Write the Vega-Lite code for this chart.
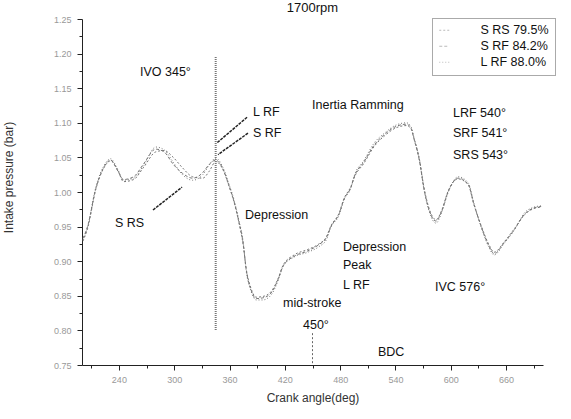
{
  "$schema": "https://vega.github.io/schema/vega-lite/v6.json",
  "autosize": "none",
  "width": 461,
  "height": 346,
  "padding": {"left": 82, "top": 19, "right": 28, "bottom": 54},
  "background": "white",
  "title": {"text": "1700rpm", "font": "Liberation Sans", "fontSize": 13, "fontWeight": "normal", "color": "#111", "anchor": "middle", "offset": 0},
  "config": {
    "view": {"stroke": null},
    "font": "Liberation Sans",
    "legend": {
      "orient": "none", "legendX": 350, "legendY": -1,
      "strokeColor": "#555", "strokeDash": [1, 1], "padding": 6,
      "labelFont": "Liberation Sans", "labelFontSize": 12.5, "labelColor": "#111",
      "symbolType": "stroke", "symbolSize": 100, "symbolStrokeColor": "#bbb", "symbolStrokeWidth": 1,
      "labelOffset": 30, "rowPadding": 3
    }
  },
  "resolve": {"axis": {"x": "independent", "y": "independent"}},
  "datasets": {
    "curves": [
      {"series": "L RF 88.0%", "angle": 201, "p": 0.931}, {"series": "L RF 88.0%", "angle": 206, "p": 0.949}, {"series": "L RF 88.0%", "angle": 215, "p": 1.007}, {"series": "L RF 88.0%", "angle": 223, "p": 1.036}, {"series": "L RF 88.0%", "angle": 231, "p": 1.048}, {"series": "L RF 88.0%", "angle": 239, "p": 1.032}, {"series": "L RF 88.0%", "angle": 245, "p": 1.017}, {"series": "L RF 88.0%", "angle": 256, "p": 1.020}, {"series": "L RF 88.0%", "angle": 267, "p": 1.039}, {"series": "L RF 88.0%", "angle": 280, "p": 1.065}, {"series": "L RF 88.0%", "angle": 289, "p": 1.061}, {"series": "L RF 88.0%", "angle": 299, "p": 1.043}, {"series": "L RF 88.0%", "angle": 309, "p": 1.025}, {"series": "L RF 88.0%", "angle": 320, "p": 1.017}, {"series": "L RF 88.0%", "angle": 331, "p": 1.025}, {"series": "L RF 88.0%", "angle": 338, "p": 1.039}, {"series": "L RF 88.0%", "angle": 345, "p": 1.049}, {"series": "L RF 88.0%", "angle": 354, "p": 1.032}, {"series": "L RF 88.0%", "angle": 359, "p": 1.013}, {"series": "L RF 88.0%", "angle": 365, "p": 0.988}, {"series": "L RF 88.0%", "angle": 370, "p": 0.960}, {"series": "L RF 88.0%", "angle": 375, "p": 0.926}, {"series": "L RF 88.0%", "angle": 378, "p": 0.887}, {"series": "L RF 88.0%", "angle": 383, "p": 0.858}, {"series": "L RF 88.0%", "angle": 389, "p": 0.844}, {"series": "L RF 88.0%", "angle": 396, "p": 0.844}, {"series": "L RF 88.0%", "angle": 405, "p": 0.851}, {"series": "L RF 88.0%", "angle": 413, "p": 0.873}, {"series": "L RF 88.0%", "angle": 418, "p": 0.892}, {"series": "L RF 88.0%", "angle": 430, "p": 0.906}, {"series": "L RF 88.0%", "angle": 445, "p": 0.913}, {"series": "L RF 88.0%", "angle": 457, "p": 0.921}, {"series": "L RF 88.0%", "angle": 465, "p": 0.931}, {"series": "L RF 88.0%", "angle": 470, "p": 0.949}, {"series": "L RF 88.0%", "angle": 479, "p": 0.967}, {"series": "L RF 88.0%", "angle": 484, "p": 0.988}, {"series": "L RF 88.0%", "angle": 492, "p": 1.007}, {"series": "L RF 88.0%", "angle": 495, "p": 1.022}, {"series": "L RF 88.0%", "angle": 506, "p": 1.046}, {"series": "L RF 88.0%", "angle": 517, "p": 1.071}, {"series": "L RF 88.0%", "angle": 528, "p": 1.085}, {"series": "L RF 88.0%", "angle": 541, "p": 1.097}, {"series": "L RF 88.0%", "angle": 552, "p": 1.100}, {"series": "L RF 88.0%", "angle": 557, "p": 1.094}, {"series": "L RF 88.0%", "angle": 560, "p": 1.079}, {"series": "L RF 88.0%", "angle": 566, "p": 1.046}, {"series": "L RF 88.0%", "angle": 571, "p": 1.003}, {"series": "L RF 88.0%", "angle": 577, "p": 0.970}, {"series": "L RF 88.0%", "angle": 584, "p": 0.955}, {"series": "L RF 88.0%", "angle": 590, "p": 0.970}, {"series": "L RF 88.0%", "angle": 597, "p": 0.999}, {"series": "L RF 88.0%", "angle": 608, "p": 1.022}, {"series": "L RF 88.0%", "angle": 619, "p": 1.013}, {"series": "L RF 88.0%", "angle": 625, "p": 0.984}, {"series": "L RF 88.0%", "angle": 633, "p": 0.949}, {"series": "L RF 88.0%", "angle": 641, "p": 0.921}, {"series": "L RF 88.0%", "angle": 647, "p": 0.909}, {"series": "L RF 88.0%", "angle": 658, "p": 0.926}, {"series": "L RF 88.0%", "angle": 669, "p": 0.945}, {"series": "L RF 88.0%", "angle": 680, "p": 0.970}, {"series": "L RF 88.0%", "angle": 690, "p": 0.978}, {"series": "L RF 88.0%", "angle": 698, "p": 0.980},

      {"series": "S RF 84.2%", "angle": 201, "p": 0.933}, {"series": "S RF 84.2%", "angle": 206, "p": 0.950}, {"series": "S RF 84.2%", "angle": 215, "p": 1.005}, {"series": "S RF 84.2%", "angle": 223, "p": 1.034}, {"series": "S RF 84.2%", "angle": 231, "p": 1.046}, {"series": "S RF 84.2%", "angle": 239, "p": 1.030}, {"series": "S RF 84.2%", "angle": 245, "p": 1.018}, {"series": "S RF 84.2%", "angle": 256, "p": 1.022}, {"series": "S RF 84.2%", "angle": 267, "p": 1.041}, {"series": "S RF 84.2%", "angle": 280, "p": 1.062}, {"series": "S RF 84.2%", "angle": 289, "p": 1.058}, {"series": "S RF 84.2%", "angle": 299, "p": 1.040}, {"series": "S RF 84.2%", "angle": 309, "p": 1.027}, {"series": "S RF 84.2%", "angle": 320, "p": 1.020}, {"series": "S RF 84.2%", "angle": 331, "p": 1.028}, {"series": "S RF 84.2%", "angle": 338, "p": 1.040}, {"series": "S RF 84.2%", "angle": 345, "p": 1.046}, {"series": "S RF 84.2%", "angle": 354, "p": 1.030}, {"series": "S RF 84.2%", "angle": 359, "p": 1.011}, {"series": "S RF 84.2%", "angle": 365, "p": 0.986}, {"series": "S RF 84.2%", "angle": 370, "p": 0.958}, {"series": "S RF 84.2%", "angle": 375, "p": 0.924}, {"series": "S RF 84.2%", "angle": 378, "p": 0.889}, {"series": "S RF 84.2%", "angle": 383, "p": 0.860}, {"series": "S RF 84.2%", "angle": 389, "p": 0.846}, {"series": "S RF 84.2%", "angle": 396, "p": 0.847}, {"series": "S RF 84.2%", "angle": 405, "p": 0.854}, {"series": "S RF 84.2%", "angle": 413, "p": 0.875}, {"series": "S RF 84.2%", "angle": 418, "p": 0.893}, {"series": "S RF 84.2%", "angle": 430, "p": 0.907}, {"series": "S RF 84.2%", "angle": 445, "p": 0.915}, {"series": "S RF 84.2%", "angle": 457, "p": 0.924}, {"series": "S RF 84.2%", "angle": 465, "p": 0.934}, {"series": "S RF 84.2%", "angle": 470, "p": 0.950}, {"series": "S RF 84.2%", "angle": 479, "p": 0.969}, {"series": "S RF 84.2%", "angle": 484, "p": 0.989}, {"series": "S RF 84.2%", "angle": 492, "p": 1.008}, {"series": "S RF 84.2%", "angle": 495, "p": 1.021}, {"series": "S RF 84.2%", "angle": 506, "p": 1.044}, {"series": "S RF 84.2%", "angle": 517, "p": 1.068}, {"series": "S RF 84.2%", "angle": 528, "p": 1.083}, {"series": "S RF 84.2%", "angle": 541, "p": 1.095}, {"series": "S RF 84.2%", "angle": 552, "p": 1.098}, {"series": "S RF 84.2%", "angle": 557, "p": 1.092}, {"series": "S RF 84.2%", "angle": 560, "p": 1.077}, {"series": "S RF 84.2%", "angle": 566, "p": 1.045}, {"series": "S RF 84.2%", "angle": 571, "p": 1.004}, {"series": "S RF 84.2%", "angle": 577, "p": 0.972}, {"series": "S RF 84.2%", "angle": 584, "p": 0.958}, {"series": "S RF 84.2%", "angle": 590, "p": 0.972}, {"series": "S RF 84.2%", "angle": 597, "p": 1.000}, {"series": "S RF 84.2%", "angle": 608, "p": 1.020}, {"series": "S RF 84.2%", "angle": 619, "p": 1.011}, {"series": "S RF 84.2%", "angle": 625, "p": 0.983}, {"series": "S RF 84.2%", "angle": 633, "p": 0.950}, {"series": "S RF 84.2%", "angle": 641, "p": 0.923}, {"series": "S RF 84.2%", "angle": 647, "p": 0.911}, {"series": "S RF 84.2%", "angle": 658, "p": 0.927}, {"series": "S RF 84.2%", "angle": 669, "p": 0.946}, {"series": "S RF 84.2%", "angle": 680, "p": 0.968}, {"series": "S RF 84.2%", "angle": 690, "p": 0.977}, {"series": "S RF 84.2%", "angle": 698, "p": 0.979},

      {"series": "S RS 79.5%", "angle": 201, "p": 0.929}, {"series": "S RS 79.5%", "angle": 206, "p": 0.947}, {"series": "S RS 79.5%", "angle": 215, "p": 1.004}, {"series": "S RS 79.5%", "angle": 223, "p": 1.033}, {"series": "S RS 79.5%", "angle": 231, "p": 1.045}, {"series": "S RS 79.5%", "angle": 239, "p": 1.031}, {"series": "S RS 79.5%", "angle": 245, "p": 1.015}, {"series": "S RS 79.5%", "angle": 256, "p": 1.018}, {"series": "S RS 79.5%", "angle": 267, "p": 1.036}, {"series": "S RS 79.5%", "angle": 280, "p": 1.058}, {"series": "S RS 79.5%", "angle": 289, "p": 1.060}, {"series": "S RS 79.5%", "angle": 299, "p": 1.050}, {"series": "S RS 79.5%", "angle": 309, "p": 1.035}, {"series": "S RS 79.5%", "angle": 320, "p": 1.022}, {"series": "S RS 79.5%", "angle": 331, "p": 1.020}, {"series": "S RS 79.5%", "angle": 338, "p": 1.030}, {"series": "S RS 79.5%", "angle": 345, "p": 1.044}, {"series": "S RS 79.5%", "angle": 354, "p": 1.029}, {"series": "S RS 79.5%", "angle": 359, "p": 1.010}, {"series": "S RS 79.5%", "angle": 365, "p": 0.985}, {"series": "S RS 79.5%", "angle": 370, "p": 0.957}, {"series": "S RS 79.5%", "angle": 375, "p": 0.922}, {"series": "S RS 79.5%", "angle": 378, "p": 0.890}, {"series": "S RS 79.5%", "angle": 383, "p": 0.862}, {"series": "S RS 79.5%", "angle": 389, "p": 0.848}, {"series": "S RS 79.5%", "angle": 396, "p": 0.849}, {"series": "S RS 79.5%", "angle": 405, "p": 0.856}, {"series": "S RS 79.5%", "angle": 413, "p": 0.876}, {"series": "S RS 79.5%", "angle": 418, "p": 0.894}, {"series": "S RS 79.5%", "angle": 430, "p": 0.909}, {"series": "S RS 79.5%", "angle": 445, "p": 0.917}, {"series": "S RS 79.5%", "angle": 457, "p": 0.925}, {"series": "S RS 79.5%", "angle": 465, "p": 0.935}, {"series": "S RS 79.5%", "angle": 470, "p": 0.951}, {"series": "S RS 79.5%", "angle": 479, "p": 0.970}, {"series": "S RS 79.5%", "angle": 484, "p": 0.990}, {"series": "S RS 79.5%", "angle": 492, "p": 1.009}, {"series": "S RS 79.5%", "angle": 495, "p": 1.020}, {"series": "S RS 79.5%", "angle": 506, "p": 1.042}, {"series": "S RS 79.5%", "angle": 517, "p": 1.066}, {"series": "S RS 79.5%", "angle": 528, "p": 1.081}, {"series": "S RS 79.5%", "angle": 541, "p": 1.093}, {"series": "S RS 79.5%", "angle": 552, "p": 1.096}, {"series": "S RS 79.5%", "angle": 557, "p": 1.091}, {"series": "S RS 79.5%", "angle": 560, "p": 1.078}, {"series": "S RS 79.5%", "angle": 566, "p": 1.047}, {"series": "S RS 79.5%", "angle": 571, "p": 1.006}, {"series": "S RS 79.5%", "angle": 577, "p": 0.974}, {"series": "S RS 79.5%", "angle": 584, "p": 0.960}, {"series": "S RS 79.5%", "angle": 590, "p": 0.973}, {"series": "S RS 79.5%", "angle": 597, "p": 1.001}, {"series": "S RS 79.5%", "angle": 608, "p": 1.019}, {"series": "S RS 79.5%", "angle": 619, "p": 1.010}, {"series": "S RS 79.5%", "angle": 625, "p": 0.982}, {"series": "S RS 79.5%", "angle": 633, "p": 0.951}, {"series": "S RS 79.5%", "angle": 641, "p": 0.925}, {"series": "S RS 79.5%", "angle": 647, "p": 0.913}, {"series": "S RS 79.5%", "angle": 658, "p": 0.928}, {"series": "S RS 79.5%", "angle": 669, "p": 0.947}, {"series": "S RS 79.5%", "angle": 680, "p": 0.967}, {"series": "S RS 79.5%", "angle": 690, "p": 0.976}, {"series": "S RS 79.5%", "angle": 698, "p": 0.978}
    ],
    "notes": [
      {"angle": 262.9, "p": 1.173, "label": "IVO 345°"},
      {"angle": 385.5, "p": 1.116, "label": "L RF"},
      {"angle": 385.5, "p": 1.085, "label": "S RF"},
      {"angle": 235.8, "p": 0.955, "label": "S RS"},
      {"angle": 376.8, "p": 0.967, "label": "Depression"},
      {"angle": 449.5, "p": 1.126, "label": "Inertia Ramming"},
      {"angle": 602.4, "p": 1.114, "label": "LRF 540°"},
      {"angle": 602.4, "p": 1.085, "label": "SRF 541°"},
      {"angle": 602.4, "p": 1.054, "label": "SRS 543°"},
      {"angle": 483.1, "p": 0.921, "label": "Depression"},
      {"angle": 483.1, "p": 0.895, "label": "Peak"},
      {"angle": 483.1, "p": 0.866, "label": "L RF"},
      {"angle": 418.0, "p": 0.840, "label": "mid-stroke"},
      {"angle": 439.7, "p": 0.808, "label": "450°"},
      {"angle": 521.0, "p": 0.769, "label": "BDC"},
      {"angle": 582.9, "p": 0.863, "label": "IVC 576°"}
    ],
    "arrows": [
      {"angle": 277.0, "p": 0.974, "angle2": 308.5, "p2": 1.007},
      {"angle": 379.0, "p": 1.108, "angle2": 346.4, "p2": 1.071},
      {"angle": 380.0, "p": 1.085, "angle2": 347.5, "p2": 1.054}
    ]
  },
  "layer": [
    {
      "data": {"name": "curves"},
      "mark": {"type": "line", "color": "#777", "strokeWidth": 1, "interpolate": "monotone"},
      "encoding": {
        "x": {
          "field": "angle", "type": "quantitative",
          "scale": {"domain": [200, 700], "nice": false, "zero": false},
          "axis": {
            "orient": "bottom",
            "title": "Crank angle(deg)", "titleFont": "Liberation Sans", "titleFontSize": 12, "titleFontWeight": "normal", "titleColor": "#333", "titlePadding": 8,
            "values": [240, 300, 360, 420, 480, 540, 600, 660],
            "format": "d", "labelOverlap": false,
            "labelFontSize": 9, "labelColor": "#999", "labelPadding": 5,
            "tickSize": 5, "tickColor": "#222", "domainColor": "#222", "grid": false
          }
        },
        "y": {
          "field": "p", "type": "quantitative",
          "scale": {"domain": [0.75, 1.25], "nice": false, "zero": false},
          "axis": {
            "orient": "left",
            "title": "Intake pressure (bar)", "titleFont": "Liberation Sans", "titleFontSize": 12, "titleFontWeight": "normal", "titleColor": "#333", "titleX": -67, "titleY": 158,
            "values": [0.75, 0.8, 0.85, 0.9, 0.95, 1.0, 1.05, 1.1, 1.15, 1.2, 1.25],
            "format": ".2f", "labelOverlap": false,
            "labelFontSize": 9, "labelColor": "#999", "labelPadding": 6,
            "tickSize": 5, "tickColor": "#222", "domainColor": "#222", "grid": false
          }
        },
        "strokeDash": {
          "field": "series", "type": "nominal",
          "scale": {"domain": ["S RS 79.5%", "S RF 84.2%", "L RF 88.0%"], "range": [[2, 2], [3, 2], [1, 2]]},
          "legend": {"title": null}
        }
      }
    },
    {
      "data": {"values": [{"angle": 345, "p": 1.195, "p2": 0.80}]},
      "mark": {"type": "rule", "color": "#777", "strokeWidth": 2, "strokeDash": [1, 1]},
      "encoding": {
        "x": {
          "field": "angle", "type": "quantitative",
          "axis": {"orient": "bottom", "values": [210, 270, 330, 390, 450, 510, 570, 630, 690], "labels": false, "domain": false, "tickSize": 3, "tickColor": "#222", "title": null, "grid": false}
        },
        "y": {
          "field": "p", "type": "quantitative",
          "axis": {"orient": "left", "values": [0.775, 0.825, 0.875, 0.925, 0.975, 1.025, 1.075, 1.125, 1.175, 1.225], "labels": false, "domain": false, "tickSize": 3, "tickColor": "#222", "title": null, "grid": false}
        },
        "y2": {"field": "p2"}
      }
    },
    {
      "data": {"values": [{"angle": 450, "p": 0.796, "p2": 0.75}]},
      "mark": {"type": "rule", "color": "#666", "strokeWidth": 1, "strokeDash": [2, 2]},
      "encoding": {
        "x": {"field": "angle", "type": "quantitative", "axis": null},
        "y": {"field": "p", "type": "quantitative", "axis": null},
        "y2": {"field": "p2"}
      }
    },
    {
      "data": {"name": "arrows"},
      "mark": {"type": "rule", "color": "#222", "strokeWidth": 1.5, "strokeDash": [3, 1]},
      "encoding": {
        "x": {"field": "angle", "type": "quantitative", "axis": null},
        "y": {"field": "p", "type": "quantitative", "axis": null},
        "x2": {"field": "angle2"},
        "y2": {"field": "p2"}
      }
    },
    {
      "data": {"name": "notes"},
      "mark": {"type": "text", "align": "left", "baseline": "middle", "font": "Liberation Sans", "fontSize": 12.5, "color": "#111"},
      "encoding": {
        "x": {"field": "angle", "type": "quantitative", "axis": null},
        "y": {"field": "p", "type": "quantitative", "axis": null},
        "text": {"field": "label"}
      }
    }
  ]
}
